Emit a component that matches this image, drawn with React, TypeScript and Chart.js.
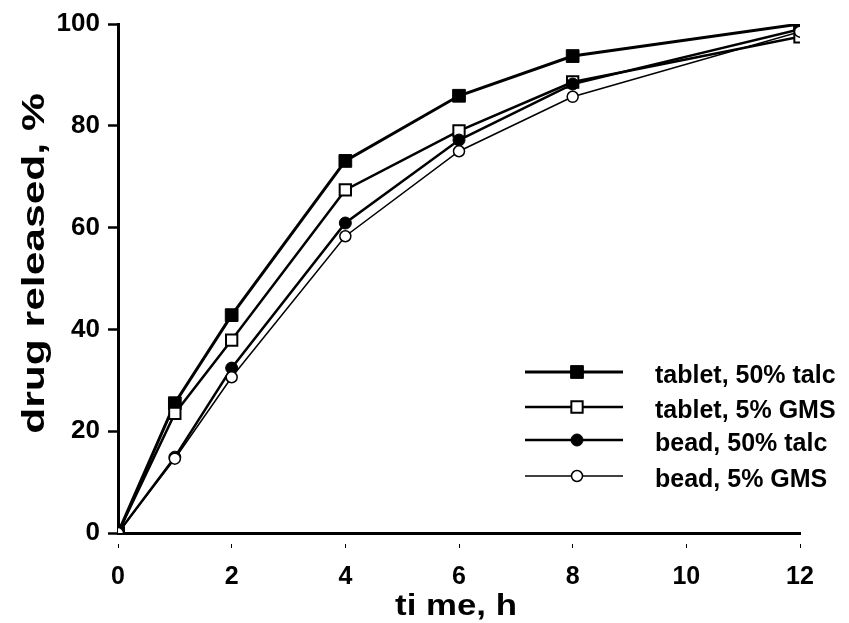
import React, { useEffect, useRef } from "react";
import { Chart, registerables } from "chart.js";

Chart.register(...registerables);

const times = [0, 1, 2, 4, 6, 8, 12];
const tablet50Talc = [0, 25.5, 42.8, 73.1, 85.9, 93.7, 100];
const tablet5GMS = [0, 23.5, 37.9, 67.4, 79.0, 88.6, 97.5];
const bead50Talc = [0, 14.9, 32.4, 60.9, 77.2, 88.2, 99.0];
const bead5GMS = [0, 14.6, 30.6, 58.3, 75.0, 85.7, 98.5];
const seriesLabels = ["tablet, 50% talc", "tablet, 5% GMS", "bead, 50% talc", "bead, 5% GMS"];
const xTicks = [0, 2, 4, 6, 8, 10, 12];
const yTicks = [0, 20, 40, 60, 80, 100];
const xTitle = "ti me, h";
const yTitle = "drug released, %";

const FONT = "'Liberation Sans', Arial, Helvetica, sans-serif";

// Axis titles drawn as real canvas text, stretched along the text direction like the reference
const titlePlugin = {
  id: "axisTitles",
  afterDraw(chart: any) {
    const ctx = chart.ctx;
    const area = chart.chartArea;
    ctx.save();
    ctx.fillStyle = "#000";
    ctx.textAlign = "center";
    ctx.textBaseline = "alphabetic";
    // y title
    const ys = 32;
    ctx.save();
    ctx.translate(36, (area.top + area.bottom) / 2 - 15);
    ctx.rotate(-Math.PI / 2);
    ctx.scale(1.33, 1);
    ctx.font = `bold ${ys}px ${FONT}`;
    ctx.fillText(yTitle, 0, 0.253 * ys);
    ctx.restore();
    // x title
    const xs = 29;
    ctx.save();
    ctx.translate((area.left + area.right) / 2 - 3, 615);
    ctx.scale(1.2, 1);
    ctx.font = `bold ${xs}px ${FONT}`;
    ctx.fillText(xTitle, 0, 0);
    ctx.restore();
    ctx.restore();
  },
};

const legendPlugin = {
  id: "customLegend",
  afterDraw(chart: any) {
    const ctx = chart.ctx;
    const area = chart.chartArea;
    const rows = [372, 407, 440, 476];
    const x1 = area.left + 407;
    const x2 = area.left + 505;
    const mx = area.left + 459;
    const tx = area.left + 537;
    ctx.save();
    chart.data.datasets.forEach((ds: any, i: number) => {
      const y = rows[i];
      ctx.beginPath();
      ctx.strokeStyle = "#000";
      ctx.lineWidth = ds.borderWidth;
      ctx.moveTo(x1, y);
      ctx.lineTo(x2, y);
      ctx.stroke();
      const r = ds.pointRadius;
      ctx.beginPath();
      if (ds.pointStyle === "rect") {
        const s = Math.SQRT1_2 * r;
        ctx.rect(mx - s, y - s, 2 * s, 2 * s);
      } else {
        ctx.arc(mx, y, r, 0, Math.PI * 2);
      }
      ctx.fillStyle = ds.pointBackgroundColor;
      ctx.fill();
      ctx.lineWidth = ds.pointBorderWidth;
      ctx.strokeStyle = "#000";
      ctx.stroke();
      ctx.fillStyle = "#000";
      ctx.font = `bold 25px ${FONT}`;
      ctx.textBaseline = "middle";
      ctx.textAlign = "left";
      ctx.fillText(ds.label, tx, y + 4);
    });
    ctx.restore();
  },
};

export default function App() {
  const ref = useRef<HTMLCanvasElement | null>(null);
  useEffect(() => {
    if (!ref.current) return;
    const mk = (vals: number[]) => times.map((t, i) => ({ x: t, y: vals[i] }));
    const chart = new Chart(ref.current, {
      type: "line",
      data: {
        datasets: [
          {
            label: seriesLabels[0],
            data: mk(tablet50Talc),
            borderColor: "#000",
            borderWidth: 3,
            pointStyle: "rect",
            pointRadius: 9,
            pointBackgroundColor: "#000",
            pointBorderColor: "#000",
            pointBorderWidth: 1,
            tension: 0,
            order: 4,
          },
          {
            label: seriesLabels[1],
            data: mk(tablet5GMS),
            borderColor: "#000",
            borderWidth: 2.5,
            pointStyle: "rect",
            pointRadius: 8,
            pointBackgroundColor: "#fff",
            pointBorderColor: "#000",
            pointBorderWidth: 2,
            tension: 0,
            order: 3,
          },
          {
            label: seriesLabels[2],
            data: mk(bead50Talc),
            borderColor: "#000",
            borderWidth: 2.5,
            pointStyle: "circle",
            pointRadius: 6,
            pointBackgroundColor: "#000",
            pointBorderColor: "#000",
            pointBorderWidth: 1,
            tension: 0,
            order: 2,
          },
          {
            label: seriesLabels[3],
            data: mk(bead5GMS),
            borderColor: "#000",
            borderWidth: 1.5,
            pointStyle: "circle",
            pointRadius: 5.5,
            pointBackgroundColor: "#fff",
            pointBorderColor: "#000",
            pointBorderWidth: 1.5,
            tension: 0,
            order: 1,
          },
        ],
      },
      options: {
        responsive: false,
        animation: false,
        layout: { padding: { top: 24, right: 49, bottom: 0, left: 0 } },
        plugins: {
          legend: { display: false },
          tooltip: { enabled: false },
        },
        scales: {
          x: {
            type: "linear",
            min: 0,
            max: 12,
            afterFit: (s: any) => {
              s.height = 90;
            },
            afterBuildTicks: (s: any) => {
              s.ticks = xTicks.map((v) => ({ value: v }));
            },
            grid: {
              display: true,
              drawOnChartArea: false,
              tickLength: 15,
              tickWidth: 1,
              tickColor: "#000",
              tickBorderDash: [0, 9, 6, 100],
            },
            border: { display: true, color: "#000", width: 3 },
            ticks: {
              color: "#000",
              padding: 14,
              font: { family: FONT, size: 25, weight: "bold" },
            },
            title: { display: false, text: xTitle },
          },
          y: {
            min: 0,
            max: 100,
            afterFit: (s: any) => {
              s.width = 118;
            },
            afterBuildTicks: (s: any) => {
              s.ticks = yTicks.map((v) => ({ value: v }));
            },
            grid: {
              display: true,
              drawOnChartArea: false,
              tickLength: 10,
              tickWidth: 2.5,
              tickColor: "#000",
            },
            border: { display: true, color: "#000", width: 3 },
            ticks: {
              color: "#000",
              padding: 8,
              font: { family: FONT, size: 26, weight: "bold" },
            },
            title: { display: false, text: yTitle },
          },
        },
      },
      plugins: [legendPlugin, titlePlugin],
    } as any);
    return () => chart.destroy();
  }, []);
  return (
    <div style={{ position: "absolute", left: 0, top: 0, width: 849, height: 623, background: "#fff" }}>
      <canvas ref={ref} width={849} height={623} />
    </div>
  );
}
